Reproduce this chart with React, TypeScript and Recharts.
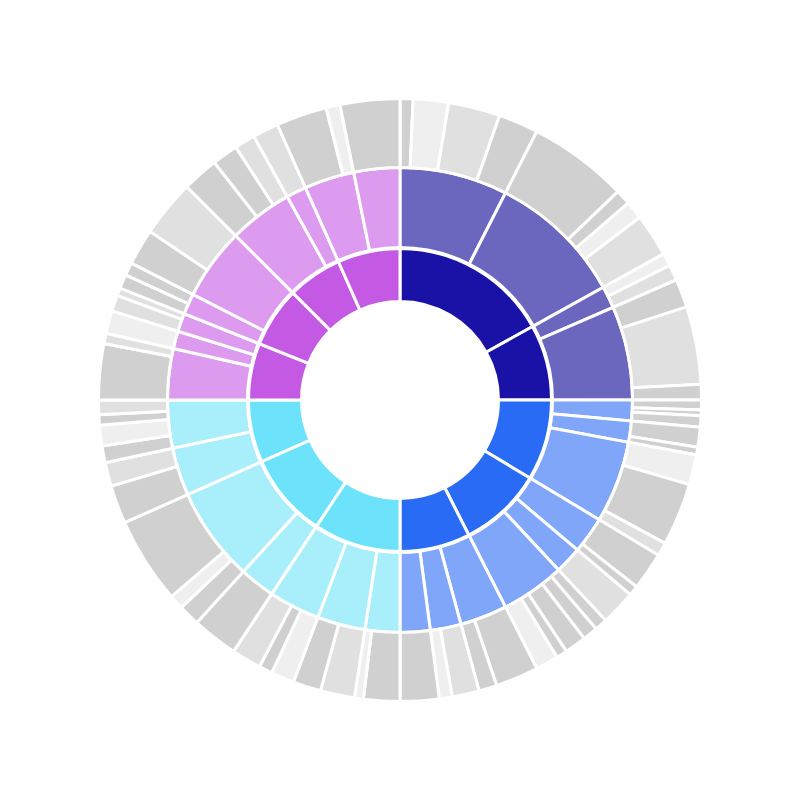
import { PieChart, Pie, Cell } from "recharts";

// Clockwise from 12 o'clock. Outer ring leaves (sizes in the same unit as the whole, 360 total)
const leafValues = [
  // dark blue branch
  2.5, 6.8, 10.0, 7.7, 19.3, 2.9, 3.5, 8.3, 2.5, 3.0, 5.5, 15.0, 3.0,
  // blue branch
  1.9, 1.1, 2.2, 3.8, 1.5, 5.8, 12.1, 2.6, 7.3, 1.9, 6.8, 2.4, 2.9, 4.2, 2.1, 4.4, 8.3, 3.5, 5.2, 2.5, 7.5,
  // cyan branch
  7.0, 1.7, 6.6, 5.4, 4.5, 2.6, 5.7, 8.9, 4.1, 2.8, 16.7, 7.4, 4.6, 3.2, 4.0, 2.0, 2.8,
  // purple branch
  10.8, 2.0, 4.4, 3.1, 1.5, 2.7, 2.5, 7.0, 11.0, 7.0, 5.0, 4.0, 5.0, 9.8, 2.7, 11.5,
];

// gray shade index of each leaf (0 = darker, 2 = lightest)
const leafShades = [
  0, 2, 1, 0, 0, 0, 2, 1, 2, 1, 0, 1, 0,
  0, 0, 0, 0, 0, 2, 0, 1, 0, 0, 1, 0, 0, 0, 0, 2, 0, 0, 1, 2, 0,
  0, 2, 1, 0, 2, 0, 1, 0, 0, 2, 0, 0, 1, 0, 2, 0, 1,
  0, 1, 2, 1, 1, 0, 0, 0, 1, 0, 0, 1, 1, 0, 2, 0,
];

// how many leaves each middle-ring node holds
const middleLeafCounts = [
  4, 4, 2, 3,
  3, 2, 3, 2, 1, 5, 2, 2, 1,
  2, 2, 3, 1, 3, 2, 4,
  2, 1, 2, 2, 2, 3, 1, 2, 1,
];

// how many middle nodes each inner-ring node holds
const innerMiddleCounts = [2, 2, 3, 3, 3, 3, 2, 2, 3, 2, 2, 2];

// colour family of each inner node
const innerGroups = [0, 0, 1, 1, 1, 2, 2, 2, 3, 3, 3, 3];

const innerColors = ["#1a12a6", "#2a6bf5", "#6ce3fb", "#c459e3"];
const middleColors = ["#6b67bf", "#80a6fa", "#a8eefb", "#dd9bf0"];
const grayShades = ["#d0d0d0", "#e0e0e0", "#efefef"];

const sum = (xs: number[]) => xs.reduce((a, b) => a + b, 0);

function buildRings() {
  const outer = leafValues.map((v, i) => ({
    name: `leaf-${i}`,
    value: v,
    fill: grayShades[leafShades[i]],
  }));

  const middleValues: number[] = [];
  let li = 0;
  middleLeafCounts.forEach((n) => {
    middleValues.push(sum(leafValues.slice(li, li + n)));
    li += n;
  });

  const middle: { name: string; value: number; fill: string }[] = [];
  const inner: { name: string; value: number; fill: string }[] = [];
  let mi = 0;
  innerMiddleCounts.forEach((n, i) => {
    const g = innerGroups[i];
    const vals = middleValues.slice(mi, mi + n);
    vals.forEach((v, j) =>
      middle.push({ name: `mid-${mi + j}`, value: v, fill: middleColors[g] })
    );
    inner.push({ name: `in-${i}`, value: sum(vals), fill: innerColors[g] });
    mi += n;
  });

  return { inner, middle, outer };
}

const { inner, middle, outer } = buildRings();

const rings = [
  { key: "inner", data: inner, innerRadius: 98.5, outerRadius: 151.5 },
  { key: "middle", data: middle, innerRadius: 152.5, outerRadius: 232.5 },
  { key: "outer", data: outer, innerRadius: 232.5, outerRadius: 301.5 },
];

export default function App() {
  return (
    <div style={{ position: "absolute", left: 0, top: 0, width: 800, height: 800, background: "#fff" }}>
      <PieChart width={800} height={800} margin={{ top: 0, right: 0, bottom: 0, left: 0 }}>
        {rings.map((r) => (
          <Pie
            key={r.key}
            data={r.data}
            dataKey="value"
            nameKey="name"
            cx={400}
            cy={400}
            startAngle={90}
            endAngle={-270}
            innerRadius={r.innerRadius}
            outerRadius={r.outerRadius}
            stroke="#fff"
            strokeWidth={3}
            isAnimationActive={false}
          >
            {r.data.map((d) => (
              <Cell key={d.name} fill={d.fill} stroke="#fff" strokeWidth={3} />
            ))}
          </Pie>
        ))}
      </PieChart>
    </div>
  );
}
